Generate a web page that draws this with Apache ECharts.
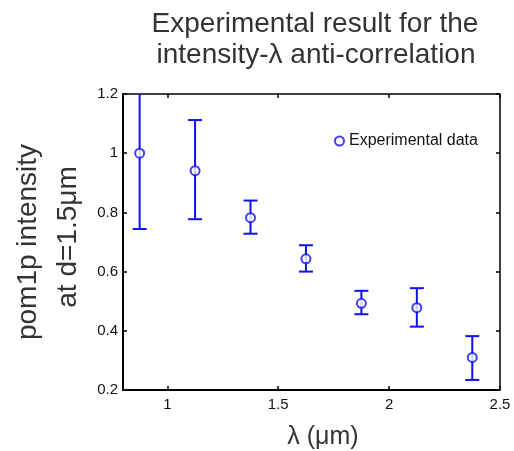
<!DOCTYPE html>
<html><head><meta charset="utf-8">
<script src="https://cdn.jsdelivr.net/npm/echarts@6/dist/echarts.min.js"></script>
<style>html,body{margin:0;padding:0;background:#fff}#c{width:514px;height:451px}</style>
</head><body><div id="c"></div>
<script>
const lambdas = [0.875, 1.125, 1.375, 1.625, 1.875, 2.125, 2.375];
const intensity = [1.0, 0.941, 0.782, 0.643, 0.493, 0.478, 0.310];
const errLow = [0.744, 0.777, 0.728, 0.600, 0.456, 0.414, 0.234];
const errHigh = [1.256, 1.112, 0.840, 0.689, 0.535, 0.544, 0.382];
const xTicks = [1, 1.5, 2, 2.5];
const yTicks = [0.2, 0.4, 0.6, 0.8, 1, 1.2];

const blue = '#1010f0';
const font = 'Liberation Sans, Arial, sans-serif';
const chart = echarts.init(document.getElementById('c'));
const points = lambdas.map((x, i) => [x, intensity[i]]);
const errs = lambdas.map((x, i) => [x, errLow[i], errHigh[i]]);

function txt(x, y, s, size, rot) {
  return {type: 'text', x: x, y: y, rotation: rot || 0,
    style: {text: s, font: size + 'px ' + font, fill: '#333', textAlign: 'center', textVerticalAlign: 'middle'}};
}

chart.setOption({
  animation: false,
  grid: {left: 123, right: 14, top: 94, bottom: 61},
  legend: {
    data: [{name: 'Experimental data', icon: 'emptyCircle'}],
    left: 329, top: 128, itemWidth: 9, itemHeight: 9, itemGap: 6,
    textStyle: {fontFamily: font, fontSize: 16, color: '#111'}
  },
  xAxis: [
    {type: 'value', min: 0.8, max: 2.5,
      axisLine: {show: true, onZero: false, lineStyle: {color: '#000', width: 2}},
      axisLabel: {color: '#111', fontFamily: font, fontSize: 15, margin: 7,
        customValues: xTicks, formatter: v => String(v)},
      axisTick: {show: true, inside: true, length: 4, customValues: xTicks, lineStyle: {color: '#000', width: 1.5}},
      splitLine: {show: false}},
    {type: 'value', min: 0.8, max: 2.5, position: 'top',
      axisLine: {show: true, onZero: false, lineStyle: {color: '#000', width: 1.5}},
      axisTick: {show: true, inside: true, length: 4, customValues: xTicks, lineStyle: {color: '#000', width: 1.5}},
      axisLabel: {show: false}, splitLine: {show: false}}
  ],
  yAxis: [
    {type: 'value', min: 0.2, max: 1.2, interval: 0.2,
      axisLine: {show: true, onZero: false, lineStyle: {color: '#000', width: 2}},
      axisTick: {show: true, inside: true, length: 4, lineStyle: {color: '#000', width: 1.5}},
      axisLabel: {color: '#111', fontFamily: font, fontSize: 15, margin: 5, formatter: v => String(+v.toFixed(1))},
      splitLine: {show: false}},
    {type: 'value', min: 0.2, max: 1.2, interval: 0.2, position: 'right',
      axisLine: {show: true, onZero: false, lineStyle: {color: '#000', width: 1.5}},
      axisTick: {show: true, inside: true, length: 4, lineStyle: {color: '#000', width: 1.5}},
      axisLabel: {show: false}, splitLine: {show: false}}
  ],
  graphic: [
    txt(315, 24, 'Experimental result for the', 28),
    txt(316, 55, 'intensity-λ anti-correlation', 28),
    txt(28, 242, 'pom1p intensity', 28, Math.PI / 2),
    txt(68, 237, 'at d=1.5μm', 28, Math.PI / 2),
    txt(323, 437, 'λ (μm)', 25)
  ],
  series: [
    {
      type: 'custom', name: 'err', data: errs, clip: true, silent: true,
      renderItem: function (params, api) {
        const x = api.value(0);
        const lo = api.coord([x, api.value(1)]);
        const hi = api.coord([x, api.value(2)]);
        const w = 7;
        const st = {stroke: blue, lineWidth: 2};
        return {type: 'group', children: [
          {type: 'line', shape: {x1: lo[0], y1: lo[1], x2: hi[0], y2: hi[1]}, style: st},
          {type: 'line', shape: {x1: lo[0] - w, y1: lo[1], x2: lo[0] + w, y2: lo[1]}, style: st},
          {type: 'line', shape: {x1: hi[0] - w, y1: hi[1], x2: hi[0] + w, y2: hi[1]}, style: st}
        ]};
      }
    },
    {
      type: 'scatter', name: 'Experimental data', data: points,
      symbol: 'emptyCircle', symbolSize: 9,
      itemStyle: {color: blue, borderColor: blue, borderWidth: 2}
    }
  ]
});
</script></body></html>
